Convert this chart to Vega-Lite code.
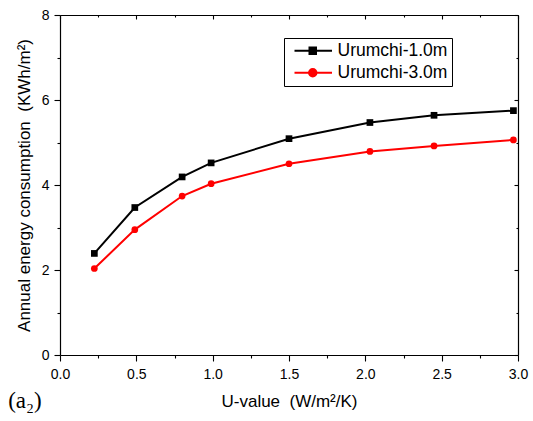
{
  "$schema": "https://vega.github.io/schema/vega-lite/v6.json",
  "width": 458,
  "height": 340,
  "autosize": "none",
  "padding": {"left": 60, "top": 15, "right": 15, "bottom": 66},
  "background": "white",
  "config": {
    "font": "Liberation Sans",
    "view": {"stroke": null},
    "axis": {"grid": false, "domainColor": "black", "domainWidth": 1.2, "tickColor": "black", "tickWidth": 1.1, "labelColor": "black", "labelFont": "Liberation Sans", "labelFontSize": 14, "titleFont": "Liberation Sans", "titleFontSize": 17, "titleFontWeight": "normal", "titleColor": "black"}
  },
  "title": {"text": "(a₂)", "orient": "bottom", "anchor": "start", "font": "Liberation Serif", "fontSize": 23, "fontWeight": "normal", "color": "black", "dx": -7, "offset": -19},
  "data": {"values": [
    {"u": 0.225, "e": 2.39, "series": "Urumchi-1.0m"},
    {"u": 0.49, "e": 3.47, "series": "Urumchi-1.0m"},
    {"u": 0.80, "e": 4.19, "series": "Urumchi-1.0m"},
    {"u": 0.99, "e": 4.52, "series": "Urumchi-1.0m"},
    {"u": 1.50, "e": 5.09, "series": "Urumchi-1.0m"},
    {"u": 2.03, "e": 5.47, "series": "Urumchi-1.0m"},
    {"u": 2.45, "e": 5.64, "series": "Urumchi-1.0m"},
    {"u": 2.97, "e": 5.75, "series": "Urumchi-1.0m"},
    {"u": 0.225, "e": 2.035, "series": "Urumchi-3.0m"},
    {"u": 0.49, "e": 2.95, "series": "Urumchi-3.0m"},
    {"u": 0.80, "e": 3.74, "series": "Urumchi-3.0m"},
    {"u": 0.99, "e": 4.03, "series": "Urumchi-3.0m"},
    {"u": 1.50, "e": 4.50, "series": "Urumchi-3.0m"},
    {"u": 2.03, "e": 4.79, "series": "Urumchi-3.0m"},
    {"u": 2.45, "e": 4.92, "series": "Urumchi-3.0m"},
    {"u": 2.97, "e": 5.06, "series": "Urumchi-3.0m"}
  ]},
  "resolve": {"axis": {"x": "independent", "y": "independent"}},
  "layer": [
    {
      "mark": {"type": "line", "strokeWidth": 2},
      "encoding": {
        "x": {"field": "u", "type": "quantitative", "scale": {"domain": [0, 3], "nice": false},
          "axis": {"orient": "bottom", "title": "U-value\u00a0\u00a0(W/m²/K)", "values": [0, 0.25, 0.5, 0.75, 1, 1.25, 1.5, 1.75, 2, 2.25, 2.5, 2.75, 3], "format": ".1f", "labelExpr": "datum.value % 0.5 === 0 ? datum.label : ''", "tickSize": {"condition": {"test": "datum.value % 0.5 === 0", "value": 6}, "value": 3}, "labelPadding": 6, "titlePadding": 12, "labelFlush": false}},
        "y": {"field": "e", "type": "quantitative", "scale": {"domain": [0, 8], "nice": false},
          "axis": {"orient": "left", "title": "Annual energy consumption\u00a0\u00a0(KWh/m²)", "values": [0, 1, 2, 3, 4, 5, 6, 7, 8], "labelExpr": "datum.value % 2 === 0 ? datum.label : ''", "tickSize": {"condition": {"test": "datum.value % 2 === 0", "value": 6}, "value": 3}, "labelPadding": 5, "titlePadding": 8, "labelFlush": false}},
        "color": {"field": "series", "type": "nominal", "scale": {"domain": ["Urumchi-1.0m", "Urumchi-3.0m"], "range": ["#000000", "#ff0000"]},
          "legend": {"title": null, "orient": "none", "legendX": 224, "legendY": 23, "padding": 4, "strokeColor": "black", "fillColor": "white", "labelFont": "Liberation Sans", "labelFontSize": 17.5, "labelColor": "black", "labelOffset": 32, "symbolSize": 100, "symbolStrokeWidth": 2, "rowPadding": 3, "labelLimit": 300,
            "encode": {
              "legend": {"update": {"stroke": {"value": "black"}, "strokeWidth": {"value": 1}, "fill": {"value": "white"}}},
              "symbols": {"update": {
              "shape": {"signal": "datum.value === 'Urumchi-1.0m' ? 'M-0.45,0H7.05M2.55,-0.65H3.85V0.65H2.55Z' : 'M-0.45,0H7.05M3.95,0A0.75,0.75,0,1,1,2.45,0A0.75,0.75,0,1,1,3.95,0Z'"},
              "fill": {"signal": "datum.value === 'Urumchi-1.0m' ? '#000000' : '#ff0000'"},
              "stroke": {"signal": "datum.value === 'Urumchi-1.0m' ? '#000000' : '#ff0000'"},
              "strokeWidth": {"value": 2},
              "opacity": {"value": 1}
            }}}}}
      }
    },
    {
      "transform": [{"filter": {"field": "series", "equal": "Urumchi-1.0m"}}],
      "mark": {"type": "point", "shape": "square", "filled": true, "opacity": 1, "size": 45, "color": "#000000"},
      "encoding": {
        "x": {"field": "u", "type": "quantitative", "axis": null},
        "y": {"field": "e", "type": "quantitative", "axis": null}
      }
    },
    {
      "transform": [{"filter": {"field": "series", "equal": "Urumchi-3.0m"}}],
      "mark": {"type": "point", "shape": "circle", "filled": true, "opacity": 1, "size": 45, "color": "#ff0000"},
      "encoding": {
        "x": {"field": "u", "type": "quantitative", "axis": null},
        "y": {"field": "e", "type": "quantitative", "axis": null}
      }
    },
    {
      "mark": {"type": "point", "opacity": 0},
      "encoding": {
        "x": {"field": "u", "type": "quantitative",
          "axis": {"orient": "top", "title": null, "labels": false, "values": [0, 0.25, 0.5, 0.75, 1, 1.25, 1.5, 1.75, 2, 2.25, 2.5, 2.75, 3], "tickSize": {"condition": {"test": "datum.value % 0.5 === 0", "value": -4}, "value": -2}}},
        "y": {"field": "e", "type": "quantitative",
          "axis": {"orient": "right", "title": null, "labels": false, "values": [0, 1, 2, 3, 4, 5, 6, 7, 8], "tickSize": {"condition": {"test": "datum.value % 2 === 0", "value": -4}, "value": -2}}}
      }
    }
  ]
}
